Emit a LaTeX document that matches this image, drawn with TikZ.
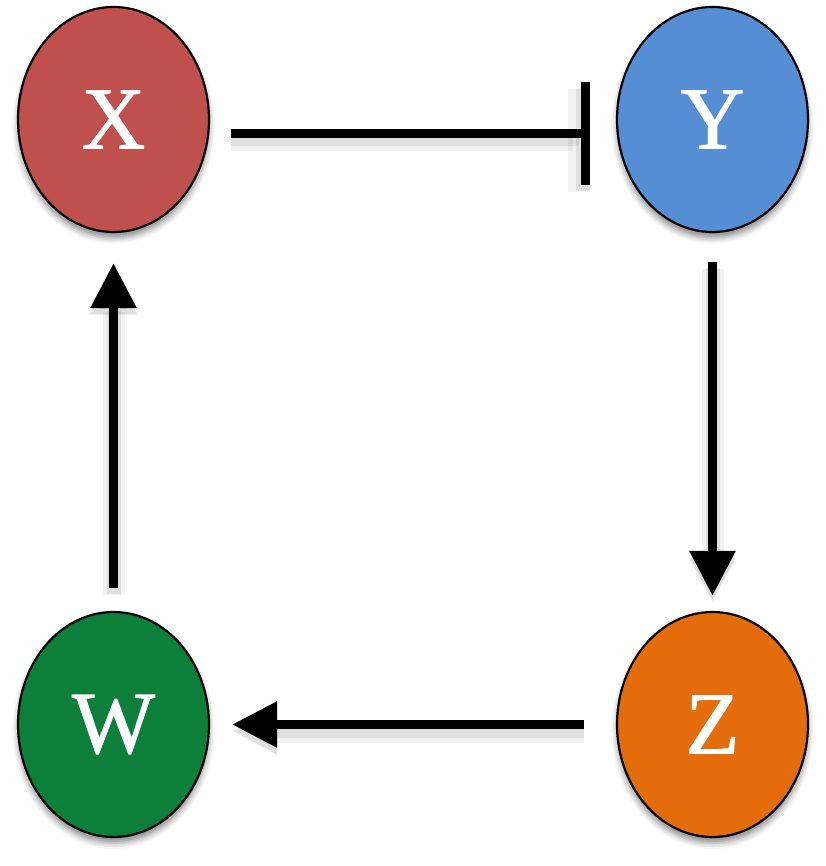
\documentclass[tikz,border=0pt]{standalone}
\usepackage{fontspec}
\setmainfont{Liberation Serif}
\newfontfamily\speciesfont{Liberation Serif}[FakeBold=1.2]
\usetikzlibrary{arrows.meta,shapes.geometric,shadows.blur}

\definecolor{xred}{HTML}{C0504D}
\definecolor{yblue}{HTML}{558ED5}
\definecolor{zorange}{HTML}{E46C0A}
\definecolor{wgreen}{HTML}{0C7F3A}

\begin{document}
\begin{tikzpicture}[x=1pt,y=-1pt,
 species/.style={ellipse,draw=black,line width=2.2pt,minimum width=191pt,minimum height=225pt,inner sep=0pt,
  text=white,font=\speciesfont\fontsize{88}{88}\selectfont,
  blur shadow={shadow xshift=0pt,shadow yshift=-6pt,shadow blur radius=6pt,shadow opacity=45}},
 link/.style={line width=9pt,
  preaction={draw=black,opacity=.05,line width=22pt,transform canvas={yshift=-7pt}},
  preaction={draw=black,opacity=.08,line width=14pt,transform canvas={yshift=-6pt}}},
 act/.style={link,-{Triangle[length=45pt,width=44pt]}},
 inh/.style={link,-{Bar[width=103pt]}}]
\useasboundingbox (0,0) rectangle (825,866);
\node[species,fill=xred] (X) at (113.5,119.5) {X};
\node[species,fill=yblue] (Y) at (712.5,119.5) {Y};
\node[species,fill=zorange] (Z) at (712.5,724.5) {Z};
\node[species,fill=wgreen] (W) at (113.5,724.5) {W};
\draw[inh,shorten <=21pt,shorten >=26pt] ([yshift=-14pt]X.east) -- ([yshift=-14pt]Y.west);
\draw[act,shorten <=29pt,shorten >=15pt] (Y.south) -- (Z.north);
\draw[act,shorten <=32pt,shorten >=22pt] (Z.west) -- (W.east);
\draw[act,shorten <=23pt,shorten >=30pt] (W.north) -- (X.south);
\end{tikzpicture}
\end{document}
